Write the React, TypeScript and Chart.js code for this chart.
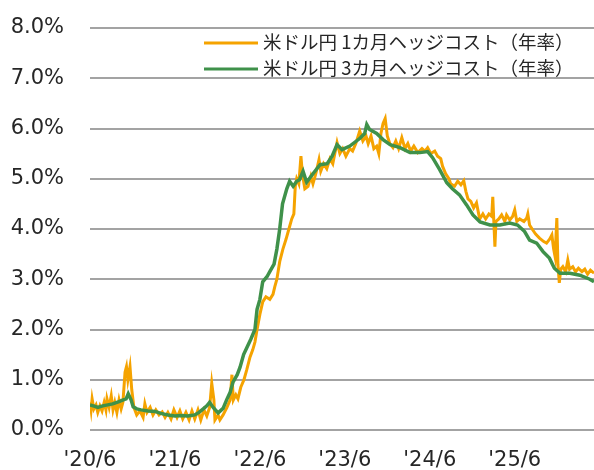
import React, { useEffect, useRef } from 'react';
import { Chart, registerables } from 'chart.js';

Chart.register(...registerables);

// x positions are months since June 2020
const tickMonths = [0, 12, 24, 36, 48, 60];
const tickLabels = ["'20/6", "'21/6", "'22/6", "'23/6", "'24/6", "'25/6"];
const seriesNames = ['米ドル円 1カ月ヘッジコスト（年率）', '米ドル円 3カ月ヘッジコスト（年率）'];

const oneMonthX = [
  0, 0.15, 0.3, 0.55, 0.85, 1.1, 1.4, 1.7, 2.0, 2.25, 2.4, 2.7, 3.0, 3.25, 3.5, 3.8, 4.1, 4.4, 4.65, 4.95,
  5.15, 5.35, 5.65, 5.9, 6.2, 6.6, 7.05, 7.5, 7.75, 8.05, 8.5, 8.9, 9.3, 9.75, 10.2, 10.6, 11.0, 11.45, 11.85, 12.3,
  12.7, 13.1, 13.55, 14.0, 14.4, 14.8, 15.25, 15.65, 16.1, 16.5, 16.9, 17.2, 17.5, 17.65, 18.1, 18.35, 18.8, 19.35, 19.8, 20.05,
  20.25, 20.6, 20.9, 21.3, 21.75, 22.15, 22.6, 23.0, 23.3, 23.6, 24.0, 24.4, 24.85, 25.4, 25.85, 26.1, 26.4, 26.8, 27.25, 27.7,
  28.1, 28.5, 28.8, 29.0, 29.2, 29.5, 29.8, 30.0, 30.35, 30.8, 31.2, 31.5, 31.9, 32.35, 32.6, 33.0, 33.45, 33.9, 34.3, 34.9,
  35.3, 35.7, 36.15, 36.7, 37.1, 37.55, 38.1, 38.55, 39.0, 39.3, 39.7, 40.1, 40.5, 40.8, 41.1, 41.4, 41.7, 42.0, 42.35, 42.8,
  43.2, 43.6, 44.05, 44.5, 44.9, 45.3, 45.75, 46.3, 46.9, 47.3, 47.7, 48.15, 48.7, 49.1, 49.55, 49.8, 50.25, 50.7, 50.95, 51.5,
  51.95, 52.4, 52.8, 53.1, 53.4, 53.8, 54.2, 54.6, 55.05, 55.5, 55.9, 56.35, 56.75, 56.9, 57.05, 57.2, 57.35, 57.75, 58.15, 58.6,
  58.85, 59.3, 59.7, 60.0, 60.3, 60.7, 61.3, 61.7, 61.85, 62.1, 62.55, 62.95, 63.5, 64.1, 64.5, 64.95, 65.25, 65.5, 65.7, 65.95,
  66.1, 66.3, 66.5, 66.8, 67.2, 67.5, 67.75, 68.2, 68.6, 69.0, 69.5, 69.9, 70.3, 70.7, 71.2,
];
const oneMonthY = [
  0.55, 0.4, 0.62, 0.42, 0.5, 0.35, 0.48, 0.38, 0.55, 0.4, 0.62, 0.45, 0.68, 0.4, 0.55, 0.35, 0.6, 0.42, 0.55, 1.15,
  1.26, 1.0, 1.26, 0.8, 0.45, 0.3, 0.38, 0.25, 0.52, 0.35, 0.45, 0.3, 0.4, 0.3, 0.36, 0.25, 0.35, 0.22, 0.4, 0.25,
  0.38, 0.22, 0.35, 0.2, 0.38, 0.22, 0.4, 0.2, 0.4, 0.28, 0.45, 0.93, 0.6, 0.2, 0.3, 0.2, 0.3, 0.45, 0.6, 1.1,
  0.6, 0.7, 0.62, 0.85, 1.0, 1.2, 1.45, 1.6, 1.75, 2.0, 2.3, 2.55, 2.65, 2.6, 2.7, 2.85, 3.0, 3.35, 3.6, 3.8,
  4.0, 4.2, 4.3, 4.85, 5.0, 4.9, 5.45, 5.1, 4.8, 4.85, 5.05, 4.9, 5.1, 5.38, 5.15, 5.3, 5.2, 5.4, 5.3, 5.72,
  5.5, 5.6, 5.45, 5.6, 5.55, 5.7, 5.95, 5.75, 5.85, 5.7, 5.85, 5.6, 5.65, 5.5, 5.9, 6.1, 6.2, 5.85, 5.7, 5.62,
  5.75, 5.6, 5.82, 5.6, 5.7, 5.55, 5.65, 5.52, 5.6, 5.55, 5.62, 5.5, 5.55, 5.45, 5.4, 5.25, 5.1, 5.0, 4.9, 4.85,
  4.95, 4.88, 4.96, 4.75, 4.6, 4.55, 4.42, 4.52, 4.2, 4.3, 4.2, 4.3, 4.25, 4.64, 4.15, 3.65, 4.15, 4.2, 4.28, 4.15,
  4.28, 4.18, 4.25, 4.38, 4.15, 4.2, 4.15, 4.22, 4.3, 4.08, 3.98, 3.9, 3.82, 3.75, 3.72, 3.8, 3.88, 3.6, 3.45, 4.22,
  3.3, 2.93, 3.2, 3.25, 3.15, 3.38, 3.2, 3.25, 3.15, 3.22, 3.15, 3.2, 3.1, 3.18, 3.12,
];

const threeMonthX = [
  0, 0.7, 1.1, 1.8, 2.5, 3.2, 4.0, 4.7, 5.1, 5.4, 5.8, 6.1, 6.6, 7.2, 8.2, 9.2, 10.0, 11.0, 12.0, 12.8,
  13.8, 14.8, 15.4, 16.0, 16.5, 16.9, 17.4, 18.1, 18.8, 19.3, 19.8, 20.2, 20.8, 21.2, 21.7, 22.2, 22.7, 23.3, 23.6, 24.0,
  24.4, 25.0, 25.4, 26.0, 26.4, 26.8, 27.2, 27.8, 28.2, 28.7, 29.2, 29.6, 30.1, 30.6, 31.5, 32.5, 33.5, 34.2, 34.9, 35.6,
  36.7, 38.1, 38.8, 39.1, 39.5, 40.5, 41.4, 42.4, 43.8, 45.2, 46.6, 47.7, 48.4, 49.4, 50.4, 51.2, 52.2, 53.2, 54.1, 55.1,
  56.5, 57.9, 59.3, 60.4, 61.4, 62.1, 63.1, 64.0, 64.9, 65.6, 66.4, 67.8, 69.2, 70.6, 71.2,
];
const threeMonthY = [
  0.5, 0.47, 0.45, 0.48, 0.5, 0.52, 0.56, 0.6, 0.62, 0.72, 0.6, 0.46, 0.42, 0.4, 0.38, 0.37, 0.33, 0.3, 0.28, 0.29,
  0.28, 0.3, 0.35, 0.42, 0.48, 0.55, 0.45, 0.34, 0.43, 0.6, 0.75, 0.95, 1.1, 1.25, 1.5, 1.65, 1.8, 2.0, 2.4, 2.6,
  2.95, 3.05, 3.15, 3.3, 3.6, 4.0, 4.5, 4.8, 4.95, 4.85, 4.95, 4.98, 5.15, 4.93, 5.1, 5.28, 5.3, 5.45, 5.68, 5.58,
  5.65, 5.8, 5.9, 6.08, 5.98, 5.9, 5.78, 5.68, 5.62, 5.52, 5.52, 5.54, 5.42, 5.18, 4.92, 4.8, 4.68, 4.48, 4.28, 4.14,
  4.08, 4.08, 4.12, 4.08, 3.95, 3.78, 3.72, 3.55, 3.42, 3.22, 3.12, 3.12, 3.08, 3.0, 2.95,
];

const seriesColors = ['#F5A300', '#3F914A'];

const insideLegend = {
  id: 'insideLegend',
  afterDraw(chart: any) {
    const { ctx, chartArea } = chart;
    ctx.save();
    chart.data.datasets.forEach((ds: any, i: number) => {
      const y = chartArea.top + 15 + i * 26;
      const x0 = chartArea.left + 114;
      ctx.strokeStyle = ds.borderColor;
      ctx.lineWidth = 3;
      ctx.beginPath();
      ctx.moveTo(x0, y);
      ctx.lineTo(x0 + 54, y);
      ctx.stroke();
      ctx.fillStyle = '#262626';
      ctx.font = '18.5px "Noto Sans CJK JP", sans-serif';
      ctx.textBaseline = 'middle';
      ctx.textAlign = 'left';
      ctx.fillText(ds.label, x0 + 59, y - 1);
    });
    ctx.restore();
  },
};

export default function App() {
  const canvasRef = useRef<HTMLCanvasElement | null>(null);

  useEffect(() => {
    const canvas = canvasRef.current;
    if (!canvas) return;
    const toPoints = (xs: number[], ys: number[]) => xs.map((x, i) => ({ x, y: ys[i] }));
    const chart = new Chart(canvas, {
      type: 'line',
      data: {
        datasets: [
          {
            label: seriesNames[0],
            data: toPoints(oneMonthX, oneMonthY),
            borderColor: seriesColors[0],
            backgroundColor: seriesColors[0],
            borderWidth: 3,
            pointRadius: 0,
            tension: 0,
            order: 1,
          },
          {
            label: seriesNames[1],
            data: toPoints(threeMonthX, threeMonthY),
            borderColor: seriesColors[1],
            backgroundColor: seriesColors[1],
            borderWidth: 3.5,
            pointRadius: 0,
            tension: 0,
            order: 0,
          },
        ],
      },
      options: {
        animation: false,
        responsive: false,
        layout: { padding: { left: 11, top: 28, right: 0, bottom: 0 } },
        plugins: { legend: { display: false }, tooltip: { enabled: false } },
        scales: {
          x: {
            type: 'linear',
            min: 0,
            max: 71.2,
            grid: { display: false, drawTicks: false },
            border: { display: false },
            afterBuildTicks: (axis: any) => {
              axis.ticks = tickMonths.map((v) => ({ value: v }));
            },
            afterFit: (axis: any) => {
              axis.height = 40;
            },
            ticks: {
              padding: 18,
              maxRotation: 0,
              autoSkip: false,
              color: '#262626',
              font: { family: '"DejaVu Sans", sans-serif', size: 21 },
              callback: (_v: any, i: number) => tickLabels[i],
            },
          },
          y: {
            min: 0,
            max: 8,
            afterFit: (axis: any) => {
              axis.width = 79;
              axis.paddingTop = 10;
              axis.paddingBottom = 10;
            },
            grid: { color: '#A3A3A3', lineWidth: 2, drawTicks: false },
            border: { display: false },
            ticks: {
              stepSize: 1,
              padding: 26,
              color: '#262626',
              font: { family: '"DejaVu Sans", sans-serif', size: 21 },
              callback: (v: any) => Number(v).toFixed(1) + '%',
            },
          },
        },
      },
      plugins: [insideLegend],
    });
    return () => chart.destroy();
  }, []);

  return (
    <div style={{ position: 'fixed', left: 0, top: 0, width: 594, height: 470 }}>
      <canvas ref={canvasRef} width={594} height={470} style={{ display: 'block' }} />
    </div>
  );
}
